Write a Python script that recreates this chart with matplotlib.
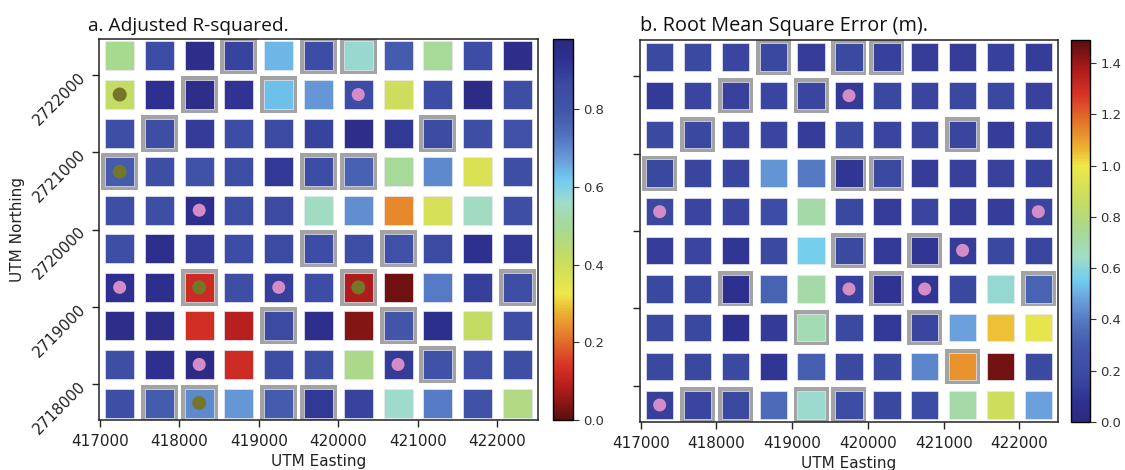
import matplotlib
matplotlib.use("Agg")
import matplotlib.pyplot as plt
import numpy as np
from matplotlib.colors import LinearSegmentedColormap, Normalize
from matplotlib.ticker import FuncFormatter, FixedLocator

plt.rcParams["font.family"] = ["DejaVu Sans"]

# ---------------- data ----------------
eastings = [417250, 417750, 418250, 418750, 419250, 419750, 420250, 420750, 421250, 421750, 422250]
northings = [2722250, 2721750, 2721250, 2720750, 2720250, 2719750, 2719250, 2718750, 2718250, 2717750]

# Adjusted R-squared (rows top -> bottom, columns west -> east)
r2 = [
    [0.49, 0.85, 0.95, 0.88, 0.64, 0.85, 0.57, 0.78, 0.50, 0.85, 0.95],
    [0.42, 0.93, 0.95, 0.92, 0.63, 0.68, 0.85, 0.40, 0.85, 0.96, 0.84],
    [0.84, 0.84, 0.90, 0.85, 0.86, 0.88, 0.95, 0.91, 0.86, 0.84, 0.83],
    [0.78, 0.84, 0.82, 0.84, 0.91, 0.85, 0.77, 0.50, 0.70, 0.37, 0.84],
    [0.84, 0.84, 0.94, 0.84, 0.86, 0.55, 0.69, 0.23, 0.38, 0.55, 0.84],
    [0.84, 0.94, 0.90, 0.85, 0.86, 0.85, 0.84, 0.83, 0.86, 0.93, 0.91],
    [0.93, 0.94, 0.12, 0.84, 0.89, 0.85, 0.08, 0.02, 0.72, 0.89, 0.84],
    [0.95, 0.95, 0.13, 0.09, 0.86, 0.94, 0.04, 0.80, 0.94, 0.42, 0.84],
    [0.84, 0.93, 0.96, 0.12, 0.85, 0.84, 0.48, 0.90, 0.82, 0.83, 0.84],
    [0.84, 0.78, 0.70, 0.68, 0.78, 0.91, 0.88, 0.56, 0.72, 0.82, 0.47],
]

# Root mean square error (m)
rmse = [
    [0.18, 0.18, 0.16, 0.17, 0.13, 0.18, 0.14, 0.13, 0.13, 0.14, 0.13],
    [0.12, 0.16, 0.15, 0.16, 0.16, 0.12, 0.17, 0.16, 0.17, 0.17, 0.15],
    [0.18, 0.17, 0.16, 0.16, 0.13, 0.18, 0.16, 0.16, 0.16, 0.13, 0.14],
    [0.17, 0.16, 0.16, 0.45, 0.39, 0.10, 0.18, 0.13, 0.14, 0.15, 0.15],
    [0.17, 0.16, 0.16, 0.20, 0.70, 0.17, 0.13, 0.16, 0.13, 0.13, 0.16],
    [0.13, 0.16, 0.10, 0.18, 0.56, 0.18, 0.12, 0.10, 0.13, 0.17, 0.16],
    [0.17, 0.17, 0.08, 0.33, 0.70, 0.15, 0.09, 0.10, 0.17, 0.62, 0.33],
    [0.18, 0.17, 0.08, 0.12, 0.68, 0.18, 0.11, 0.16, 0.48, 1.05, 0.97],
    [0.17, 0.17, 0.18, 0.10, 0.32, 0.18, 0.18, 0.42, 1.12, 1.45, 0.18],
    [0.14, 0.16, 0.18, 0.35, 0.63, 0.20, 0.17, 0.19, 0.70, 0.88, 0.48],
]

# highlighted cells (row, col) -- grey frame
framed = [(0, 3), (0, 5), (0, 6), (1, 2), (1, 4), (2, 1), (2, 8), (3, 0), (3, 5), (3, 6),
          (5, 5), (5, 7), (6, 2), (6, 6), (6, 10), (7, 4), (7, 7), (8, 8), (9, 1), (9, 2),
          (9, 4), (9, 5)]
pink_a = [(1, 6), (4, 2), (6, 0), (6, 4), (8, 2), (8, 7)]
olive_a = [(1, 0), (3, 0), (6, 2), (6, 6), (9, 2)]
pink_b = [(1, 5), (4, 0), (4, 10), (5, 8), (6, 5), (6, 7), (9, 0)]

r2_ticks = [0.0, 0.2, 0.4, 0.6, 0.8]
rmse_ticks = [0.0, 0.2, 0.4, 0.6, 0.8, 1.0, 1.2, 1.4]
x_ticks = [417000, 418000, 419000, 420000, 421000, 422000]
y_ticks = [2718000, 2719000, 2720000, 2721000, 2722000]

# ---------------- colormap ----------------
stops = [
    (0.00, "#5a0e0e"), (0.08, "#b01c1c"), (0.14, "#d83226"), (0.22, "#e57a2a"),
    (0.28, "#ecb030"), (0.33, "#eee848"), (0.42, "#c8dc60"), (0.50, "#a8d890"),
    (0.57, "#a0dcc8"), (0.63, "#70ccf0"), (0.68, "#6aa0dc"), (0.75, "#5070bc"),
    (0.81, "#4256aa"), (0.88, "#3c4aa2"), (0.95, "#2e3090"), (1.00, "#2a2a80"),
]
cmap = LinearSegmentedColormap.from_list("custom", stops)
cmap_r = cmap.reversed()

W, H = 1125, 470
fig = plt.figure(figsize=(W / 100, H / 100), dpi=100)

def box(l, t, r, b):
    return [l / W, 1 - b / H, (r - l) / W, (b - t) / H]

ax_a = fig.add_axes(box(99, 39, 538, 420))
cax_a = fig.add_axes(box(553, 39, 573, 420))
ax_b = fig.add_axes(box(640, 40, 1058, 422))
cax_b = fig.add_axes(box(1071, 40, 1090, 422))

E, N = np.meshgrid(eastings, northings)

def draw(ax, cax, vals, cm, vmin, vmax, sq_px, frame_px, pinks, olives, cticks):
    norm = Normalize(vmin=vmin, vmax=vmax)
    ptpx = 72 / 100
    fr = [(northings[r], eastings[c]) for r, c in framed]
    ax.scatter([e for _, e in fr], [n for n, _ in fr], marker="s",
               s=(frame_px * ptpx) ** 2, color="#a3a3a3", edgecolors="none", zorder=1)
    sc = ax.scatter(E.ravel(), N.ravel(), c=np.array(vals).ravel(), cmap=cm, norm=norm,
                    marker="s", s=(sq_px * ptpx) ** 2, edgecolors="#e8e8f4",
                    linewidths=0.5, zorder=2)
    if pinks:
        ax.scatter([eastings[c] for r, c in pinks], [northings[r] for r, c in pinks],
                   s=(13 * ptpx) ** 2, color="#d48cc6", edgecolors="none", zorder=3)
    if olives:
        ax.scatter([eastings[c] for r, c in olives], [northings[r] for r, c in olives],
                   s=(14 * ptpx) ** 2, color="#74762a", edgecolors="none", zorder=3)
    ax.set_xlim(416990, 422510)
    ax.set_ylim(2717530, 2722470)
    ax.xaxis.set_major_locator(FixedLocator(x_ticks))
    ax.yaxis.set_major_locator(FixedLocator(y_ticks))
    ax.xaxis.set_major_formatter(FuncFormatter(lambda v, p: f"{int(v)}"))
    ax.yaxis.set_major_formatter(FuncFormatter(lambda v, p: f"{int(v)}"))
    ax.tick_params(axis="both", labelsize=11, length=5, width=1, color="#222222", labelcolor="#222222")
    ax.tick_params(axis="x", pad=5)
    for sp in ax.spines.values():
        sp.set_linewidth(1.1)
        sp.set_color("#222222")
    ax.set_xlabel("UTM Easting", fontsize=11, color="#222222", labelpad=4)
    cb = fig.colorbar(sc, cax=cax)
    cb.set_ticks(cticks)
    cb.ax.tick_params(labelsize=9.5, length=4, color="#333333", labelcolor="#333333")
    cb.outline.set_linewidth(1)
    return sc

draw(ax_a, cax_a, r2, cmap, 0.0, 0.981, 29, 37, pink_a, olive_a, r2_ticks)
draw(ax_b, cax_b, rmse, cmap_r, 0.0, 1.49, 27.5, 35, pink_b, None, rmse_ticks)

for lab in ax_a.get_yticklabels():
    lab.set_rotation(45)
    lab.set_rotation_mode("anchor")
    lab.set_ha("right")
    lab.set_va("center")
ax_a.tick_params(axis="y", pad=6)
ax_a.set_ylabel("UTM Northing", fontsize=11, color="#222222", labelpad=4)
ax_b.tick_params(axis="y", labelleft=False)

fig.text(88 / W, 1 - 31 / H, "a. Adjusted R-squared.", fontsize=13.8,
         family=["Open Sans", "DejaVu Sans"], va="baseline", ha="left", color="#111111")
fig.text(640 / W, 1 - 31 / H, "b. Root Mean Square Error (m).", fontsize=14.3,
         family=["Open Sans", "DejaVu Sans"], va="baseline", ha="left", color="#111111")

fig.savefig("out.png", dpi=100, facecolor="white")
